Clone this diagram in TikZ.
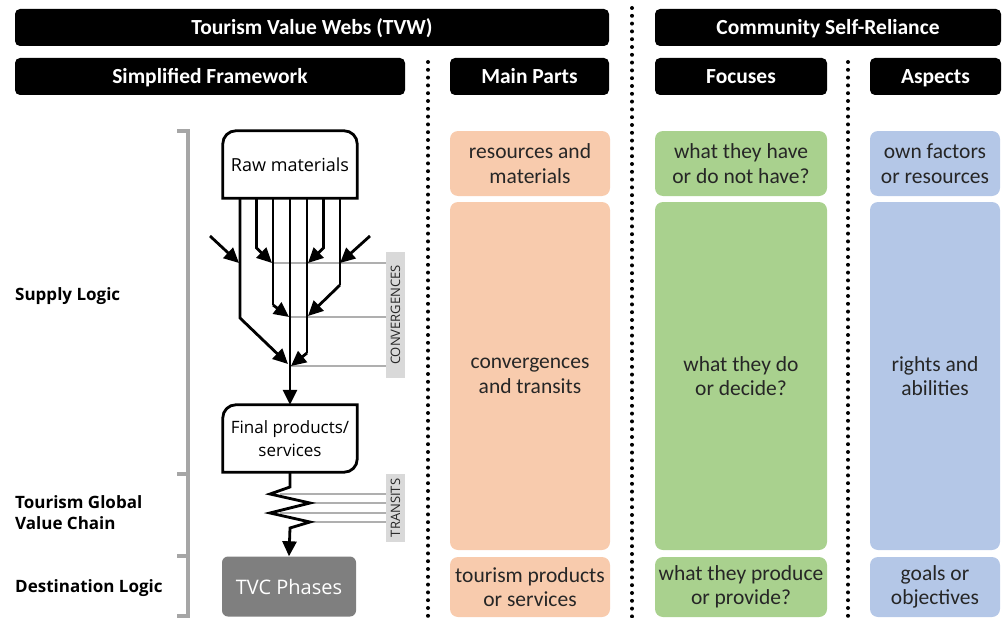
\documentclass[tikz,border=0pt]{standalone}
\usepackage{fontspec}
\setmainfont{Open Sans}
\newfontfamily\boxfont{Carlito}
\usetikzlibrary{arrows.meta}
\definecolor{orng}{HTML}{F8CBAD}
\definecolor{grn}{HTML}{A9D18E}
\definecolor{blu}{HTML}{B4C7E7}
\definecolor{brk}{HTML}{A6A6A6}
\definecolor{lblbg}{HTML}{D9D9D9}
\definecolor{tvcgray}{HTML}{7F7F7F}
\definecolor{gline}{HTML}{AFAFAF}
\definecolor{txtdark}{HTML}{262626}
\begin{document}
\begin{tikzpicture}[x=1pt,y=-1pt,
  hdr/.style={fill=black, text=white, rounded corners=5pt, inner sep=0pt,
    text height=15pt, text depth=0pt,
    font=\boxfont\bfseries\fontsize{21.5}{24}\selectfont},
  cell/.style={rounded corners=8pt, inner sep=0pt, align=center, text=txtdark,
    font=\boxfont\fontsize{21.5}{24.5}\selectfont},
  side/.style={anchor=west, align=left, inner sep=0pt,
    font=\bfseries\fontsize{17}{21}\selectfont},
  dotline/.style={line width=4pt, line cap=round, dash pattern=on 0pt off 7.8pt},
  bracket/.style={brk, line width=4pt},
  flow/.style={line width=2.8pt, line join=miter},
  arr/.style={flow, -{Triangle[length=15pt,width=14pt]}},
  guide/.style={gline, line width=1.3pt},
  tag/.style={fill=lblbg, inner sep=0pt, text=txtdark, rotate=90,
    font=\fontsize{13}{15}\selectfont},
  frame/.style={line width=2.8pt},
  boxtext/.style={inner sep=0pt, align=center, font=\fontsize{17}{22.5}\selectfont}
]
\useasboundingbox (0,0) rectangle (1002,618);

% headers
\node[hdr, minimum width=594pt, minimum height=37pt] (tvw) at (312,27.5) {Tourism Value Webs (TVW)};
\node[hdr, minimum width=346pt, minimum height=37pt] (csr) at (828,27.5) {Community Self-Reliance};
\node[hdr, minimum width=390pt, minimum height=37pt] (sf) at (210,76.5) {Simplified Framework};
\node[hdr, minimum width=159pt, minimum height=37pt] (mp) at (529.5,76.5) {Main Parts};
\node[hdr, minimum width=172pt, minimum height=37pt] (fo) at (741,76.5) {Focuses};
\node[hdr, minimum width=131pt, minimum height=37pt] (as) at (935.5,76.5) {Aspects};

% dotted separators
\draw[dotline] (428,62) -- (428,618);
\draw[dotline] (632,8) -- (632,618);
\draw[dotline] (848,62) -- (848,618);

% cells: main parts
\node[cell, fill=orng, minimum width=160pt, minimum height=65pt] (o1) at (530,163.5) {resources and\\materials};
\node[cell, fill=orng, minimum width=160pt, minimum height=348pt] (o2) at (530,376) {convergences\\and transits};
\node[cell, fill=orng, minimum width=160pt, minimum height=60pt] (o3) at (530,587) {tourism products\\or services};
% focuses
\node[cell, fill=grn, minimum width=172pt, minimum height=65pt] (g1) at (741,163.5) {what they have\\or do not have?};
\node[cell, fill=grn, minimum width=172pt, minimum height=348pt] (g2) at (741,376) {what they do\\or decide?};
\node[cell, fill=grn, minimum width=172pt, minimum height=60pt] (g3) at (741,587) {what they produce\\or provide?};
% aspects
\node[cell, fill=blu, minimum width=130pt, minimum height=65pt] (b1) at (935,163.5) {own factors\\or resources};
\node[cell, fill=blu, minimum width=130pt, minimum height=348pt] (b2) at (935,376) {rights and\\abilities};
\node[cell, fill=blu, minimum width=130pt, minimum height=60pt] (b3) at (935,587) {goals or\\objectives};

% side labels
\node[side] (sl) at (15,296) {Supply Logic};
\node[side] (tg) at (15,512.5) {Tourism Global\\Value Chain};
\node[side] (dl) at (15,588) {Destination Logic};

% bracket
\draw[bracket] (177,131) -- (188,131) -- (188,616) -- (177,616);
\draw[bracket] (177,474) -- (188,474);
\draw[bracket] (177,556) -- (188,556);

% framework boxes
\node[boxtext, minimum width=134pt, minimum height=67pt, font=\fontsize{18}{22.5}\selectfont] (raw) at (290,164.5) {Raw materials};
\draw[frame] (raw.south west) [rounded corners=13pt] -- (raw.north west) -- (raw.north east) [sharp corners] -- (raw.south east) -- cycle;
\node[boxtext, minimum width=134pt, minimum height=67pt] (fin) at (290,438.5) {Final products/\\services};
\draw[frame] (fin.south west) [rounded corners=13pt] -- (fin.north west) [sharp corners] -- (fin.north east) [rounded corners=13pt] -- (fin.south east) [sharp corners] -- cycle;
\node[fill=tvcgray, text=white, rounded corners=6pt, minimum width=134pt, minimum height=60pt, inner sep=0pt,
  font=\fontsize{20}{24}\selectfont] (tvc) at (289,586.5) {TVC Phases};

% guide tags
\node[tag, minimum width=126pt, minimum height=19pt] (conv) at (395.5,315) {CONVERGENCES};
\node[tag, minimum width=68pt, minimum height=19pt] (tran) at (395.5,508) {TRANSITS};

% junction coordinates
\coordinate (ja) at (273,263);
\coordinate (jb) at (290,317);
\coordinate (jc) at (290,366);
\coordinate (jd) at (307,263);
\coordinate (je) at (307,316);
\coordinate (jf) at (240,263);
\coordinate (jg) at (341,263);

% guide lines (behind flows)
\draw[guide] (ja) -- (ja -| conv.north);
\draw[guide] (jb) -- (jb -| conv.north);
\draw[guide] (jc) -- (jc -| conv.north);
\coordinate (t1) at (280,494);
\coordinate (t2) at (310,503);
\coordinate (t3) at (280,513);
\coordinate (t4) at (310,522);
\draw[guide] (t1) -- (t1 -| tran.north);
\draw[guide] (t2) -- (t2 -| tran.north);
\draw[guide] (t3) -- (t3 -| tran.north);
\draw[guide] (t4) -- (t4 -| tran.north);

% flows from raw materials
\draw[arr] (raw.south) -- (fin.north);
\draw[arr] ([xshift=-50pt]raw.south) -- (240,318) -- (288,364);
\draw[arr] ([xshift=-33.5pt]raw.south) -- (256.5,248) -- ([xshift=-1pt]ja);
\draw[flow] ([xshift=-17pt]raw.south) -- (273,305);
\draw[arr] (273,305) -- ([xshift=-1pt]jb);
\draw[flow] ([xshift=17pt]raw.south) -- (307,353);
\draw[arr] (307,353) -- ([xshift=1pt]jc);
\draw[arr] ([xshift=33.5pt]raw.south) -- (323.5,248) -- ([xshift=1pt]jd);
\draw[flow] ([xshift=50pt]raw.south) -- (340,285);
\draw[arr] (340,285) -- ([xshift=1pt]je);
% external inputs
\coordinate (inl) at (210,236);
\coordinate (inr) at (370,236);
\draw[arr] (inl) -- ([xshift=-1pt]jf);
\draw[arr] (inr) -- ([xshift=-1pt]jg);

% transits zigzag
\draw[arr] (fin.south) -- (290,487) -- (270,494) -- (310,503) -- (270,513) -- (310,522) -- (290,528) -- (tvc.north);
\end{tikzpicture}
\end{document}
